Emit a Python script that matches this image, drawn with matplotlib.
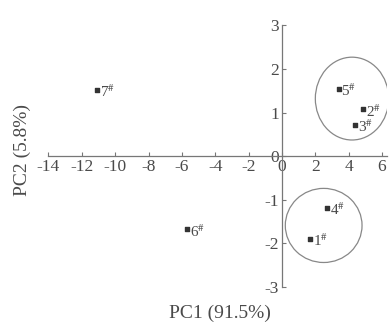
import matplotlib
matplotlib.use("Agg")
import matplotlib.pyplot as plt
from matplotlib.patches import Ellipse

# PCA scores
sample_labels = ["1", "2", "3", "4", "5", "6", "7"]
pc1 = [1.7, 4.85, 4.4, 2.7, 3.4, -5.7, -11.1]
pc2 = [-1.9, 1.07, 0.72, -1.18, 1.55, -1.68, 1.52]

# groups circled in the figure: (center x, center y, width, height)
groups = [
    (4.2, 1.32, 4.4, 1.9),
    (2.5, -1.59, 4.6, 1.7),
]

x_ticks = [-14, -12, -10, -8, -6, -4, -2, 0, 2, 4, 6]
y_ticks = [-3, -2, -1, 0, 1, 2, 3]

ink = "#4a4a4a"
plt.rcParams["font.family"] = ["Liberation Serif", "DejaVu Serif"]
plt.rcParams["mathtext.fontset"] = "stix"
plt.rcParams["axes.unicode_minus"] = False

fig = plt.figure(figsize=(3.89, 3.23), dpi=100)
ax = fig.add_axes([0.116, 0.105, 0.879, 0.83])

ax.scatter(pc1, pc2, marker="s", s=5, color="#333333", zorder=3)
for x, y, name in zip(pc1, pc2, sample_labels):
    ax.annotate(name + "$^{\\#}$", (x, y), xytext=(2, -1.5), textcoords="offset points",
                fontsize=11, color=ink, va="center", ha="left")

for cx, cy, w, h in groups:
    ax.add_patch(Ellipse((cx, cy), w, h, fill=False, ec="#888888", lw=0.9))

ax.set_xlim(-14.2, 6.3)
ax.set_ylim(-3.05, 3.1)
ax.spines["left"].set_position(("data", 0))
ax.spines["bottom"].set_position(("data", 0))
ax.spines["right"].set_visible(False)
ax.spines["top"].set_visible(False)
ax.spines["left"].set_bounds(-3, 3)
ax.spines["bottom"].set_bounds(-14, 6.3)
for s in ("left", "bottom"):
    ax.spines[s].set_color("#777777")
    ax.spines[s].set_linewidth(0.9)

ax.set_xticks(x_ticks)
ax.set_yticks(y_ticks)
ax.tick_params(direction="in", length=3, width=0.8, color="#777777",
               labelsize=12.5, labelcolor=ink, pad=2)

fig.text(0.565, 0.031, "PC1 (91.5%)", ha="center", va="center", fontsize=14, color=ink)
fig.text(0.057, 0.535, "PC2 (5.8%)", ha="center", va="center", rotation=90,
         fontsize=14, color=ink)

fig.savefig("out.png", dpi=100)
